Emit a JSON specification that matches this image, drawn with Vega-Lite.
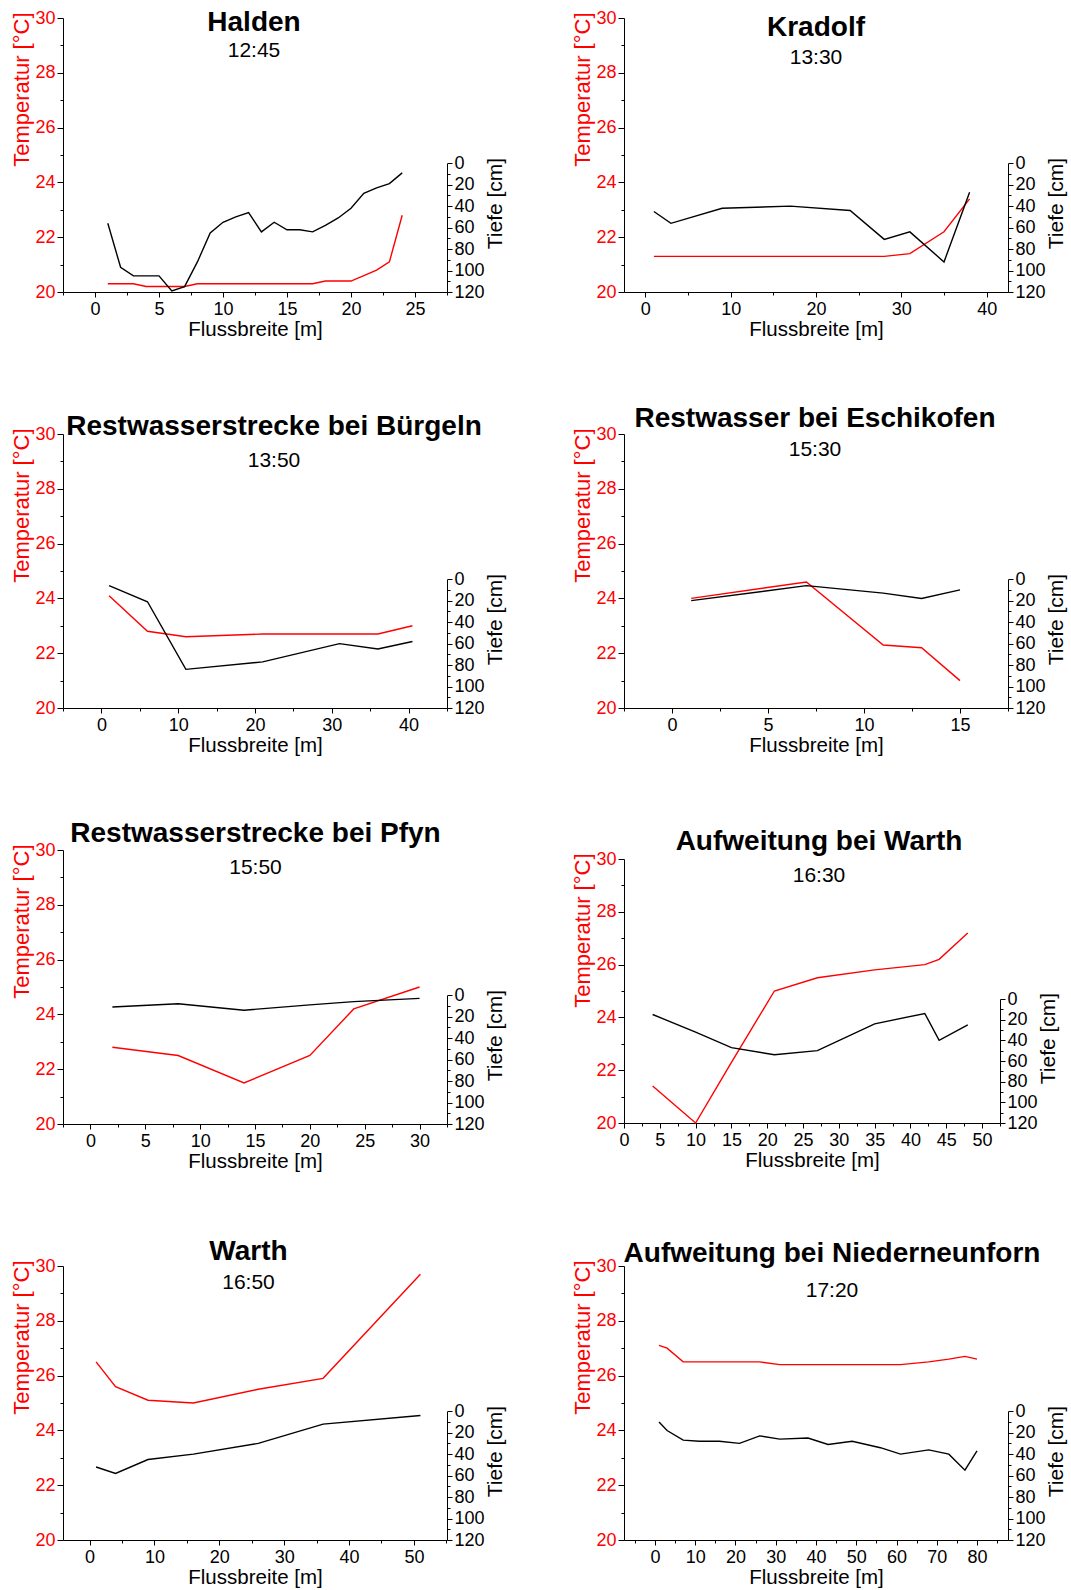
{
  "$schema": "https://vega.github.io/schema/vega-lite/v6.json",
  "padding": {"left": 10, "top": 8, "right": 5, "bottom": 5},
  "bounds": "flush",
  "center": true,
  "columns": 2,
  "spacing": {"row": 142, "column": 177},
  "concat": [
    {
      "width": 384, "height": 274,
      "title": {"text": "Halden", "subtitle": "12:45", "offset": -51.5, "subtitlePadding": 3, "dx": -1},
      "data": {"values": [
        {"x": 1, "T": 20.3, "D": 56}, {"x": 2, "T": 20.3, "D": 97}, {"x": 3, "T": 20.3, "D": 105}, {"x": 4, "T": 20.2, "D": 105},
        {"x": 5, "T": 20.2, "D": 105}, {"x": 6, "T": 20.2, "D": 119}, {"x": 7, "T": 20.2, "D": 115}, {"x": 8, "T": 20.3, "D": 92},
        {"x": 9, "T": 20.3, "D": 65}, {"x": 10, "T": 20.3, "D": 55}, {"x": 11, "T": 20.3, "D": 50}, {"x": 12, "T": 20.3, "D": 46},
        {"x": 13, "T": 20.3, "D": 64}, {"x": 14, "T": 20.3, "D": 55}, {"x": 15, "T": 20.3, "D": 62}, {"x": 16, "T": 20.3, "D": 62},
        {"x": 17, "T": 20.3, "D": 64}, {"x": 18, "T": 20.4, "D": 58}, {"x": 19, "T": 20.4, "D": 51}, {"x": 20, "T": 20.4, "D": 42},
        {"x": 21, "T": 20.6, "D": 28}, {"x": 22, "T": 20.8, "D": 23}, {"x": 23, "T": 21.1, "D": 19}, {"x": 24, "T": 22.8, "D": 9}
      ]},
      "layer": [
        {"mark": {"type": "line", "color": "#ff0000", "strokeWidth": 1.4},
         "encoding": {
           "x": {"field": "x", "type": "quantitative", "scale": {"domain": [-2.5, 27.5], "nice": false, "zero": false},
                 "axis": {"title": "Flussbreite [m]", "values": [-2.5, 0, 2.5, 5, 7.5, 10, 12.5, 15, 17.5, 20, 22.5, 25, 27.5], "tickCount": 100, "format": "d",
                          "labelExpr": "datum.value % 5 === 0 ? datum.label : ''", "labelOverlap": false, "labelFlush": false,
                          "tickSize": {"condition": {"test": "datum.value % 5 !== 0", "value": 3}, "value": 5}}},
           "y": {"field": "T", "type": "quantitative", "scale": {"domain": [20, 30], "nice": false, "zero": false},
                 "axis": {"title": "Temperatur [°C]", "values": [20, 21, 22, 23, 24, 25, 26, 27, 28, 29, 30], "tickCount": 100, "format": "d",
                          "labelExpr": "datum.value % 2 === 0 ? datum.label : ''", "labelOverlap": false,
                          "tickSize": {"condition": {"test": "datum.value % 2 !== 0", "value": 3}, "value": 6},
                          "labelColor": "#ff0000", "titleColor": "#ff0000", "titleAnchor": "end", "titleY": -6, "titlePadding": 1, "titleFontSize": 22}}
         }},
        {"mark": {"type": "line", "color": "#000000", "strokeWidth": 1.4},
         "encoding": {
           "x": {"field": "x", "type": "quantitative"},
           "y": {"field": "D", "type": "quantitative", "scale": {"domain": [0, 120], "range": [145.2, 274], "nice": false, "zero": false},
                 "axis": {"orient": "right", "title": "Tiefe [cm]", "values": [0, 10, 20, 30, 40, 50, 60, 70, 80, 90, 100, 110, 120], "tickCount": 100, "format": "d",
                          "labelExpr": "datum.value % 20 === 0 ? datum.label : ''", "labelOverlap": false,
                          "tickSize": {"condition": {"test": "datum.value % 20 !== 0", "value": 3}, "value": 5},
                          "titleAngle": 270, "titleY": 185, "titleAlign": "center", "titleBaseline": "top", "titlePadding": 0}}
         }}
      ],
      "resolve": {"scale": {"y": "independent"}}
    },
    {
      "width": 384, "height": 274,
      "title": {"text": "Kradolf", "subtitle": "13:30", "offset": -58.5, "subtitlePadding": 5, "dx": 0},
      "data": {"values": [
        {"x": 1, "T": 21.3, "D": 45}, {"x": 3, "T": 21.3, "D": 56}, {"x": 9, "T": 21.3, "D": 42}, {"x": 17, "T": 21.3, "D": 40},
        {"x": 24, "T": 21.3, "D": 44}, {"x": 28, "T": 21.3, "D": 71}, {"x": 31, "T": 21.4, "D": 64}, {"x": 35, "T": 22.2, "D": 92},
        {"x": 38, "T": 23.4, "D": 27}
      ]},
      "layer": [
        {"mark": {"type": "line", "color": "#ff0000", "strokeWidth": 1.4},
         "encoding": {
           "x": {"field": "x", "type": "quantitative", "scale": {"domain": [-2.5, 42.5], "nice": false, "zero": false},
                 "axis": {"title": "Flussbreite [m]", "values": [0, 5, 10, 15, 20, 25, 30, 35, 40], "tickCount": 100, "format": "d",
                          "labelExpr": "datum.value % 10 === 0 ? datum.label : ''", "labelOverlap": false, "labelFlush": false,
                          "tickSize": {"condition": {"test": "datum.value % 10 !== 0", "value": 3}, "value": 5}}},
           "y": {"field": "T", "type": "quantitative", "scale": {"domain": [20, 30], "nice": false, "zero": false},
                 "axis": {"title": "Temperatur [°C]", "values": [20, 21, 22, 23, 24, 25, 26, 27, 28, 29, 30], "tickCount": 100, "format": "d",
                          "labelExpr": "datum.value % 2 === 0 ? datum.label : ''", "labelOverlap": false,
                          "tickSize": {"condition": {"test": "datum.value % 2 !== 0", "value": 3}, "value": 6},
                          "labelColor": "#ff0000", "titleColor": "#ff0000", "titleAnchor": "end", "titleY": -6, "titlePadding": 1, "titleFontSize": 22}}
         }},
        {"mark": {"type": "line", "color": "#000000", "strokeWidth": 1.4},
         "encoding": {
           "x": {"field": "x", "type": "quantitative"},
           "y": {"field": "D", "type": "quantitative", "scale": {"domain": [0, 120], "range": [145.2, 274], "nice": false, "zero": false},
                 "axis": {"orient": "right", "title": "Tiefe [cm]", "values": [0, 10, 20, 30, 40, 50, 60, 70, 80, 90, 100, 110, 120], "tickCount": 100, "format": "d",
                          "labelExpr": "datum.value % 20 === 0 ? datum.label : ''", "labelOverlap": false,
                          "tickSize": {"condition": {"test": "datum.value % 20 !== 0", "value": 3}, "value": 5},
                          "titleAngle": 270, "titleY": 185, "titleAlign": "center", "titleBaseline": "top", "titlePadding": 0}}
         }}
      ],
      "resolve": {"scale": {"y": "independent"}}
    },
    {
      "width": 384, "height": 274,
      "title": {"text": "Restwasserstrecke bei Bürgeln", "subtitle": "13:50", "offset": -45.5, "subtitlePadding": 9, "dx": 19},
      "data": {"values": [
        {"x": 1, "T": 24.1, "D": 6}, {"x": 6, "T": 22.8, "D": 21}, {"x": 11, "T": 22.6, "D": 84}, {"x": 21, "T": 22.7, "D": 77},
        {"x": 31, "T": 22.7, "D": 60}, {"x": 36, "T": 22.7, "D": 65}, {"x": 40.5, "T": 23.0, "D": 58}
      ]},
      "layer": [
        {"mark": {"type": "line", "color": "#ff0000", "strokeWidth": 1.4},
         "encoding": {
           "x": {"field": "x", "type": "quantitative", "scale": {"domain": [-5, 45], "nice": false, "zero": false},
                 "axis": {"title": "Flussbreite [m]", "values": [-5, 0, 5, 10, 15, 20, 25, 30, 35, 40, 45], "tickCount": 100, "format": "d",
                          "labelExpr": "datum.value % 10 === 0 ? datum.label : ''", "labelOverlap": false, "labelFlush": false,
                          "tickSize": {"condition": {"test": "datum.value % 10 !== 0", "value": 3}, "value": 5}}},
           "y": {"field": "T", "type": "quantitative", "scale": {"domain": [20, 30], "nice": false, "zero": false},
                 "axis": {"title": "Temperatur [°C]", "values": [20, 21, 22, 23, 24, 25, 26, 27, 28, 29, 30], "tickCount": 100, "format": "d",
                          "labelExpr": "datum.value % 2 === 0 ? datum.label : ''", "labelOverlap": false,
                          "tickSize": {"condition": {"test": "datum.value % 2 !== 0", "value": 3}, "value": 6},
                          "labelColor": "#ff0000", "titleColor": "#ff0000", "titleAnchor": "end", "titleY": -6, "titlePadding": 1, "titleFontSize": 22}}
         }},
        {"mark": {"type": "line", "color": "#000000", "strokeWidth": 1.4},
         "encoding": {
           "x": {"field": "x", "type": "quantitative"},
           "y": {"field": "D", "type": "quantitative", "scale": {"domain": [0, 120], "range": [145.2, 274], "nice": false, "zero": false},
                 "axis": {"orient": "right", "title": "Tiefe [cm]", "values": [0, 10, 20, 30, 40, 50, 60, 70, 80, 90, 100, 110, 120], "tickCount": 100, "format": "d",
                          "labelExpr": "datum.value % 20 === 0 ? datum.label : ''", "labelOverlap": false,
                          "tickSize": {"condition": {"test": "datum.value % 20 !== 0", "value": 3}, "value": 5},
                          "titleAngle": 270, "titleY": 185, "titleAlign": "center", "titleBaseline": "top", "titlePadding": 0}}
         }}
      ],
      "resolve": {"scale": {"y": "independent"}}
    },
    {
      "width": 384, "height": 274,
      "title": {"text": "Restwasser bei Eschikofen", "subtitle": "15:30", "offset": -34.9, "subtitlePadding": 5.5, "dx": -1},
      "data": {"values": [
        {"x": 1, "T": 24.0, "D": 20}, {"x": 7, "T": 24.6, "D": 6}, {"x": 11, "T": 22.3, "D": 13}, {"x": 13, "T": 22.2, "D": 18},
        {"x": 15, "T": 21.0, "D": 10}
      ]},
      "layer": [
        {"mark": {"type": "line", "color": "#ff0000", "strokeWidth": 1.4},
         "encoding": {
           "x": {"field": "x", "type": "quantitative", "scale": {"domain": [-2.5, 17.5], "nice": false, "zero": false},
                 "axis": {"title": "Flussbreite [m]", "values": [-2.5, 0, 2.5, 5, 7.5, 10, 12.5, 15, 17.5], "tickCount": 100, "format": "d",
                          "labelExpr": "datum.value % 5 === 0 ? datum.label : ''", "labelOverlap": false, "labelFlush": false,
                          "tickSize": {"condition": {"test": "datum.value % 5 !== 0", "value": 3}, "value": 5}}},
           "y": {"field": "T", "type": "quantitative", "scale": {"domain": [20, 30], "nice": false, "zero": false},
                 "axis": {"title": "Temperatur [°C]", "values": [20, 21, 22, 23, 24, 25, 26, 27, 28, 29, 30], "tickCount": 100, "format": "d",
                          "labelExpr": "datum.value % 2 === 0 ? datum.label : ''", "labelOverlap": false,
                          "tickSize": {"condition": {"test": "datum.value % 2 !== 0", "value": 3}, "value": 6},
                          "labelColor": "#ff0000", "titleColor": "#ff0000", "titleAnchor": "end", "titleY": -6, "titlePadding": 1, "titleFontSize": 22}}
         }},
        {"mark": {"type": "line", "color": "#000000", "strokeWidth": 1.4},
         "encoding": {
           "x": {"field": "x", "type": "quantitative"},
           "y": {"field": "D", "type": "quantitative", "scale": {"domain": [0, 120], "range": [145.2, 274], "nice": false, "zero": false},
                 "axis": {"orient": "right", "title": "Tiefe [cm]", "values": [0, 10, 20, 30, 40, 50, 60, 70, 80, 90, 100, 110, 120], "tickCount": 100, "format": "d",
                          "labelExpr": "datum.value % 20 === 0 ? datum.label : ''", "labelOverlap": false,
                          "tickSize": {"condition": {"test": "datum.value % 20 !== 0", "value": 3}, "value": 5},
                          "titleAngle": 270, "titleY": 185, "titleAlign": "center", "titleBaseline": "top", "titlePadding": 0}}
         }}
      ],
      "resolve": {"scale": {"y": "independent"}}
    },
    {
      "width": 384, "height": 274,
      "title": {"text": "Restwasserstrecke bei Pfyn", "subtitle": "15:50", "offset": -37, "subtitlePadding": 9, "dx": 0.5},
      "data": {"values": [
        {"x": 2, "T": 22.8, "D": 11}, {"x": 8, "T": 22.5, "D": 8}, {"x": 14, "T": 21.5, "D": 14}, {"x": 20, "T": 22.5, "D": 9},
        {"x": 24, "T": 24.2, "D": 6}, {"x": 30, "T": 25.0, "D": 3}
      ]},
      "layer": [
        {"mark": {"type": "line", "color": "#ff0000", "strokeWidth": 1.4},
         "encoding": {
           "x": {"field": "x", "type": "quantitative", "scale": {"domain": [-2.5, 32.5], "nice": false, "zero": false},
                 "axis": {"title": "Flussbreite [m]", "values": [-2.5, 0, 2.5, 5, 7.5, 10, 12.5, 15, 17.5, 20, 22.5, 25, 27.5, 30, 32.5], "tickCount": 100, "format": "d",
                          "labelExpr": "datum.value % 5 === 0 ? datum.label : ''", "labelOverlap": false, "labelFlush": false,
                          "tickSize": {"condition": {"test": "datum.value % 5 !== 0", "value": 3}, "value": 5}}},
           "y": {"field": "T", "type": "quantitative", "scale": {"domain": [20, 30], "nice": false, "zero": false},
                 "axis": {"title": "Temperatur [°C]", "values": [20, 21, 22, 23, 24, 25, 26, 27, 28, 29, 30], "tickCount": 100, "format": "d",
                          "labelExpr": "datum.value % 2 === 0 ? datum.label : ''", "labelOverlap": false,
                          "tickSize": {"condition": {"test": "datum.value % 2 !== 0", "value": 3}, "value": 6},
                          "labelColor": "#ff0000", "titleColor": "#ff0000", "titleAnchor": "end", "titleY": -6, "titlePadding": 1, "titleFontSize": 22}}
         }},
        {"mark": {"type": "line", "color": "#000000", "strokeWidth": 1.4},
         "encoding": {
           "x": {"field": "x", "type": "quantitative"},
           "y": {"field": "D", "type": "quantitative", "scale": {"domain": [0, 120], "range": [145.2, 274], "nice": false, "zero": false},
                 "axis": {"orient": "right", "title": "Tiefe [cm]", "values": [0, 10, 20, 30, 40, 50, 60, 70, 80, 90, 100, 110, 120], "tickCount": 100, "format": "d",
                          "labelExpr": "datum.value % 20 === 0 ? datum.label : ''", "labelOverlap": false,
                          "tickSize": {"condition": {"test": "datum.value % 20 !== 0", "value": 3}, "value": 5},
                          "titleAngle": 270, "titleY": 185, "titleAlign": "center", "titleBaseline": "top", "titlePadding": 0}}
         }}
      ],
      "resolve": {"scale": {"y": "independent"}}
    },
    {
      "width": 376, "height": 273,
      "title": {"text": "Aufweitung bei Warth", "subtitle": "16:30", "offset": -35.7, "subtitlePadding": 9, "dx": 7},
      "data": {"values": [
        {"x": 4, "T": 21.4, "D": 15}, {"x": 10, "T": 20.0, "D": 32}, {"x": 15, "T": 22.3, "D": 47}, {"x": 21, "T": 25.0, "D": 54},
        {"x": 27, "T": 25.5, "D": 50}, {"x": 35, "T": 25.8, "D": 24}, {"x": 42, "T": 26.0, "D": 14}, {"x": 44, "T": 26.2, "D": 40},
        {"x": 48, "T": 27.2, "D": 25}
      ]},
      "layer": [
        {"mark": {"type": "line", "color": "#ff0000", "strokeWidth": 1.4},
         "encoding": {
           "x": {"field": "x", "type": "quantitative", "scale": {"domain": [0, 52.5], "nice": false, "zero": false},
                 "axis": {"title": "Flussbreite [m]", "values": [0, 2.5, 5, 7.5, 10, 12.5, 15, 17.5, 20, 22.5, 25, 27.5, 30, 32.5, 35, 37.5, 40, 42.5, 45, 47.5, 50, 52.5], "tickCount": 100, "format": "d",
                          "labelExpr": "datum.value % 5 === 0 ? datum.label : ''", "labelOverlap": false, "labelFlush": false,
                          "tickSize": {"condition": {"test": "datum.value % 5 !== 0", "value": 3}, "value": 5}}},
           "y": {"field": "T", "type": "quantitative", "scale": {"domain": [20, 30], "range": [273, 9], "nice": false, "zero": false},
                 "axis": {"title": "Temperatur [°C]", "values": [20, 21, 22, 23, 24, 25, 26, 27, 28, 29, 30], "tickCount": 100, "format": "d",
                          "labelExpr": "datum.value % 2 === 0 ? datum.label : ''", "labelOverlap": false,
                          "tickSize": {"condition": {"test": "datum.value % 2 !== 0", "value": 3}, "value": 6},
                          "labelColor": "#ff0000", "titleColor": "#ff0000", "titleAnchor": "end", "titleY": 3, "titlePadding": 1, "titleFontSize": 22}}
         }},
        {"mark": {"type": "line", "color": "#000000", "strokeWidth": 1.4},
         "encoding": {
           "x": {"field": "x", "type": "quantitative"},
           "y": {"field": "D", "type": "quantitative", "scale": {"domain": [0, 120], "range": [149, 273], "nice": false, "zero": false},
                 "axis": {"orient": "right", "title": "Tiefe [cm]", "values": [0, 10, 20, 30, 40, 50, 60, 70, 80, 90, 100, 110, 120], "tickCount": 100, "format": "d",
                          "labelExpr": "datum.value % 20 === 0 ? datum.label : ''", "labelOverlap": false,
                          "tickSize": {"condition": {"test": "datum.value % 20 !== 0", "value": 3}, "value": 5},
                          "titleAngle": 270, "titleY": 188, "titleAlign": "center", "titleBaseline": "top", "titlePadding": 0}}
         }}
      ],
      "resolve": {"scale": {"y": "independent"}}
    },
    {
      "width": 384, "height": 274,
      "title": {"text": "Warth", "subtitle": "16:50", "offset": -35.5, "subtitlePadding": 5.5, "dx": -6.5},
      "data": {"values": [
        {"x": 1, "T": 26.5, "D": 52}, {"x": 4, "T": 25.6, "D": 58}, {"x": 9, "T": 25.1, "D": 45}, {"x": 16, "T": 25.0, "D": 40},
        {"x": 26, "T": 25.5, "D": 30}, {"x": 36, "T": 25.9, "D": 12}, {"x": 51, "T": 29.7, "D": 4}
      ]},
      "layer": [
        {"mark": {"type": "line", "color": "#ff0000", "strokeWidth": 1.4},
         "encoding": {
           "x": {"field": "x", "type": "quantitative", "scale": {"domain": [-4.1, 55.1], "nice": false, "zero": false},
                 "axis": {"title": "Flussbreite [m]", "values": [0, 5, 10, 15, 20, 25, 30, 35, 40, 45, 50, 55], "tickCount": 100, "format": "d",
                          "labelExpr": "datum.value % 10 === 0 ? datum.label : ''", "labelOverlap": false, "labelFlush": false,
                          "tickSize": {"condition": {"test": "datum.value % 10 !== 0", "value": 3}, "value": 5}}},
           "y": {"field": "T", "type": "quantitative", "scale": {"domain": [20, 30], "nice": false, "zero": false},
                 "axis": {"title": "Temperatur [°C]", "values": [20, 21, 22, 23, 24, 25, 26, 27, 28, 29, 30], "tickCount": 100, "format": "d",
                          "labelExpr": "datum.value % 2 === 0 ? datum.label : ''", "labelOverlap": false,
                          "tickSize": {"condition": {"test": "datum.value % 2 !== 0", "value": 3}, "value": 6},
                          "labelColor": "#ff0000", "titleColor": "#ff0000", "titleAnchor": "end", "titleY": -6, "titlePadding": 1, "titleFontSize": 22}}
         }},
        {"mark": {"type": "line", "color": "#000000", "strokeWidth": 1.4},
         "encoding": {
           "x": {"field": "x", "type": "quantitative"},
           "y": {"field": "D", "type": "quantitative", "scale": {"domain": [0, 120], "range": [145.2, 274], "nice": false, "zero": false},
                 "axis": {"orient": "right", "title": "Tiefe [cm]", "values": [0, 10, 20, 30, 40, 50, 60, 70, 80, 90, 100, 110, 120], "tickCount": 100, "format": "d",
                          "labelExpr": "datum.value % 20 === 0 ? datum.label : ''", "labelOverlap": false,
                          "tickSize": {"condition": {"test": "datum.value % 20 !== 0", "value": 3}, "value": 5},
                          "titleAngle": 270, "titleY": 185, "titleAlign": "center", "titleBaseline": "top", "titlePadding": 0}}
         }}
      ],
      "resolve": {"scale": {"y": "independent"}}
    },
    {
      "width": 384, "height": 274,
      "title": {"text": "Aufweitung bei Niederneunforn", "subtitle": "17:20", "offset": -44.2, "subtitlePadding": 12.5, "dx": 16},
      "data": {"values": [
        {"x": 1, "T": 27.1, "D": 10}, {"x": 3, "T": 27.0, "D": 18}, {"x": 7, "T": 26.5, "D": 27}, {"x": 11, "T": 26.5, "D": 28},
        {"x": 16, "T": 26.5, "D": 28}, {"x": 21, "T": 26.5, "D": 30}, {"x": 26, "T": 26.5, "D": 23}, {"x": 31, "T": 26.4, "D": 26},
        {"x": 38, "T": 26.4, "D": 25}, {"x": 43, "T": 26.4, "D": 31}, {"x": 49, "T": 26.4, "D": 28}, {"x": 56, "T": 26.4, "D": 34},
        {"x": 61, "T": 26.4, "D": 40}, {"x": 68, "T": 26.5, "D": 36}, {"x": 73, "T": 26.6, "D": 40}, {"x": 77, "T": 26.7, "D": 55},
        {"x": 80, "T": 26.6, "D": 37}
      ]},
      "layer": [
        {"mark": {"type": "line", "color": "#ff0000", "strokeWidth": 1.4},
         "encoding": {
           "x": {"field": "x", "type": "quantitative", "scale": {"domain": [-7.7, 87.7], "nice": false, "zero": false},
                 "axis": {"title": "Flussbreite [m]", "values": [-5, 0, 5, 10, 15, 20, 25, 30, 35, 40, 45, 50, 55, 60, 65, 70, 75, 80, 85], "tickCount": 100, "format": "d",
                          "labelExpr": "datum.value % 10 === 0 ? datum.label : ''", "labelOverlap": false, "labelFlush": false,
                          "tickSize": {"condition": {"test": "datum.value % 10 !== 0", "value": 3}, "value": 5}}},
           "y": {"field": "T", "type": "quantitative", "scale": {"domain": [20, 30], "nice": false, "zero": false},
                 "axis": {"title": "Temperatur [°C]", "values": [20, 21, 22, 23, 24, 25, 26, 27, 28, 29, 30], "tickCount": 100, "format": "d",
                          "labelExpr": "datum.value % 2 === 0 ? datum.label : ''", "labelOverlap": false,
                          "tickSize": {"condition": {"test": "datum.value % 2 !== 0", "value": 3}, "value": 6},
                          "labelColor": "#ff0000", "titleColor": "#ff0000", "titleAnchor": "end", "titleY": -6, "titlePadding": 1, "titleFontSize": 22}}
         }},
        {"mark": {"type": "line", "color": "#000000", "strokeWidth": 1.4},
         "encoding": {
           "x": {"field": "x", "type": "quantitative"},
           "y": {"field": "D", "type": "quantitative", "scale": {"domain": [0, 120], "range": [145.2, 274], "nice": false, "zero": false},
                 "axis": {"orient": "right", "title": "Tiefe [cm]", "values": [0, 10, 20, 30, 40, 50, 60, 70, 80, 90, 100, 110, 120], "tickCount": 100, "format": "d",
                          "labelExpr": "datum.value % 20 === 0 ? datum.label : ''", "labelOverlap": false,
                          "tickSize": {"condition": {"test": "datum.value % 20 !== 0", "value": 3}, "value": 5},
                          "titleAngle": 270, "titleY": 185, "titleAlign": "center", "titleBaseline": "top", "titlePadding": 0}}
         }}
      ],
      "resolve": {"scale": {"y": "independent"}}
    }
  ],
  "config": {
    "view": {"stroke": null},
    "font": "Liberation Sans",
    "axis": {"grid": false, "domainColor": "#000000", "tickColor": "#000000", "labelFont": "Liberation Sans", "titleFont": "Liberation Sans",
             "labelFontSize": 18, "titleFontSize": 21, "titleFontWeight": "normal", "labelColor": "#000000", "titleColor": "#000000",
             "domainWidth": 1, "tickWidth": 1, "labelFlush": false, "labelOverlap": false, "labelPadding": 2},
    "axisX": {"titleFontSize": 20.5, "labelPadding": 3, "titlePadding": 1},
    "title": {"font": "Liberation Sans", "fontSize": 28, "fontWeight": "bold", "color": "#000000", "subtitleFont": "Liberation Sans",
              "subtitleFontSize": 21, "subtitleColor": "#000000", "anchor": "middle", "frame": "group"}
  }
}
